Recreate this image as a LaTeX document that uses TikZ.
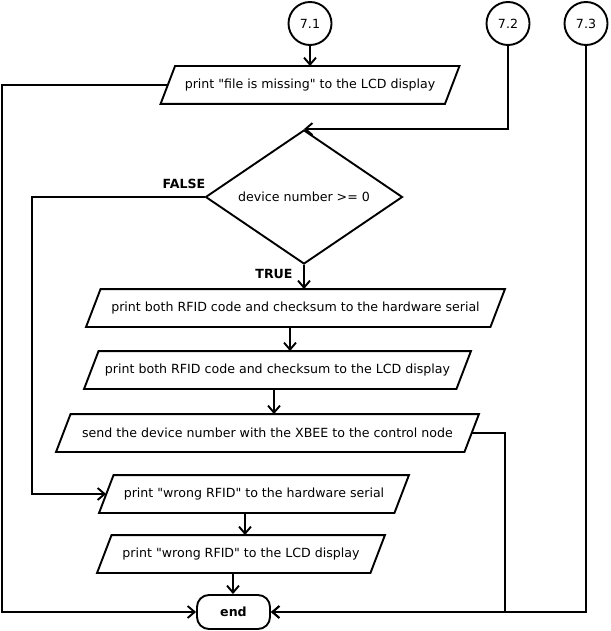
\documentclass[tikz,border=0pt]{standalone}
\usepackage{fontspec}
\setmainfont{DejaVu Sans}
\usetikzlibrary{shapes.geometric,arrows.meta}
\newcommand{\qq}{\textquotedbl}
\begin{document}
\begin{tikzpicture}[x=1pt,y=-1pt,line width=1.9pt,
  txt/.style={font=\fontsize{12.6}{15}\selectfont},
  lbl/.style={font=\fontsize{12.6}{15}\selectfont\bfseries},
  conn/.style={draw,circle,minimum size=43pt,inner sep=0pt,txt},
  iobody/.style={minimum width=#1,minimum height=36pt,inner sep=0pt,txt},
  decision/.style={draw,diamond,minimum width=197pt,minimum height=134pt,inner sep=0pt},
  term/.style={draw,rounded corners=12pt,minimum width=73pt,minimum height=34pt,inner sep=0pt,lbl},
  arr/.style={-{Straight Barb[length=7pt,width=12pt,line width=1.9pt]}}
]
\useasboundingbox (0,0) rectangle (610,631);

% connectors (off-page references)
\node[conn] (c1) at (310,23.5) {7.1};
\node[conn] (c2) at (508,23.5) {7.2};
\node[conn] (c3) at (586,23.5) {7.3};

% decision: outline and its condition text
\node[decision] (dia) at (304,197) {};
\node[txt] (diat) at (dia.center) {device number >= 0};

% input/output boxes (text bodies; outlines drawn below)
\node[iobody=297pt] (p1) at (310,85) {print \qq file is missing\qq{} to the LCD display};
\node[iobody=417pt] (p2) at (295.5,308) {print both RFID code and checksum to the hardware serial};
\node[iobody=385pt] (p3) at (277.5,370) {print both RFID code and checksum to the LCD display};
\node[iobody=421pt] (p4) at (267.5,433) {send the device number with the XBEE to the control node};
\node[iobody=308pt] (p5) at (254,494) {print \qq wrong RFID\qq{} to the hardware serial};
\node[iobody=286pt] (p6) at (241,554) {print \qq wrong RFID\qq{} to the LCD display};
\node[term] (endn) at (233.5,612) {end};

% parallelogram outlines
\foreach \n in {p1,p2,p3,p4,p5,p6}
  \draw[line join=miter] ([xshift=14.5pt]\n.north west) -- (\n.north east) -- ([xshift=-14.5pt]\n.south east) -- (\n.south west) -- cycle;

% branch labels
\node[lbl] (fl) at (184,184) {FALSE};
\node[lbl] (tl) at (274,274) {TRUE};

% flow lines
\draw[arr] (c1.south) -- (c1.south |- p1.north);
\draw[arr] (c2.south) |- (dia.north);
\draw[arr] ([xshift=7pt]p1.west) -- (2,85) |- (endn.west);
\draw[arr] (dia.west) -- (32,197) |- ([xshift=7pt]p5.west);
\draw[arr] (dia.south) -- (dia.south |- p2.north);
\draw[arr] (290,0 |- p2.south) -- (290,0 |- p3.north);
\draw[arr] (274,0 |- p3.south) -- (274,0 |- p4.north);
\draw[arr] (245,0 |- p5.south) -- (245,0 |- p6.north);
\draw[arr] (233,0 |- p6.south) -- (233,0 |- endn.north);
\draw[arr] ([xshift=-7pt]p4.east) -- (505,433) |- (endn.east);
\draw[arr] (c3.south) |- (endn.east);
\end{tikzpicture}
\end{document}
